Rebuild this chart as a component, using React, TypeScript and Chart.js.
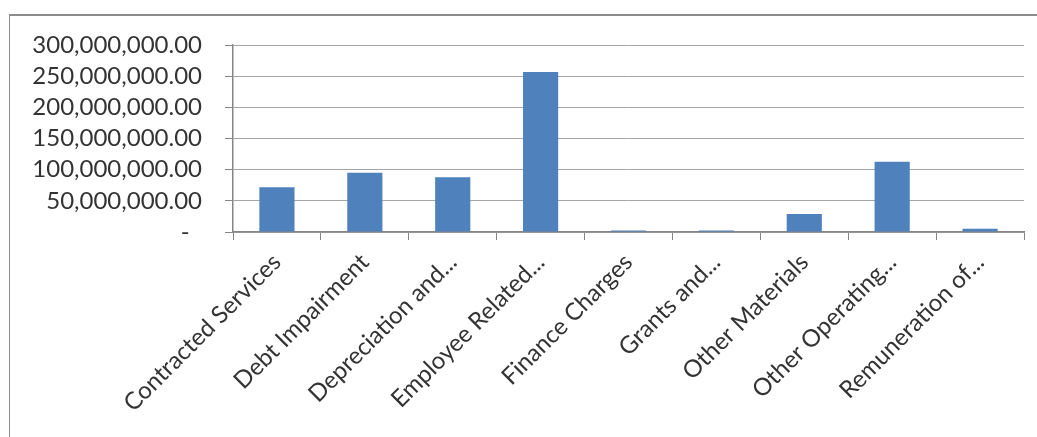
import { useEffect, useRef } from 'react';
import { Chart, registerables } from 'chart.js';

Chart.register(...registerables);

const categories = [
  'Contracted Services',
  'Debt Impairment',
  'Depreciation and...',
  'Employee Related...',
  'Finance Charges',
  'Grants and...',
  'Other Materials',
  'Other Operating...',
  'Remuneration of...',
];

const expenditure = [71700000, 95000000, 87800000, 256800000, 2500000, 2300000, 28900000, 112800000, 5300000];

const yMin = 0;
const yMax = 300000000;
const yStep = 50000000;

const FONT = 'Lato, "Open Sans", sans-serif';

export default function App() {
  const ref = useRef<HTMLCanvasElement | null>(null);

  useEffect(() => {
    if (!ref.current) return;
    const chart = new Chart(ref.current, {
      type: 'bar',
      data: {
        labels: categories,
        datasets: [
          {
            data: expenditure,
            backgroundColor: '#4F81BD',
            borderWidth: 0,
            barPercentage: 0.4,
            categoryPercentage: 1.0,
          },
        ],
      },
      options: {
        responsive: false,
        animation: false,
        layout: { padding: { left: 0, top: 45, right: 13, bottom: 0 } },
        plugins: {
          legend: { display: false },
          tooltip: { enabled: false },
          title: { display: false },
        },
        scales: {
          x: {
            offset: true,
            grid: {
              offset: true,
              drawOnChartArea: false,
              drawTicks: true,
              tickLength: 8,
              tickColor: '#868686',
              lineWidth: 1,
            },
            border: { display: true, color: '#868686', width: 1.5 },
            ticks: {
              autoSkip: false,
              maxRotation: 45,
              minRotation: 45,
              padding: 8,
              color: '#333333',
              font: { family: FONT, size: 24 },
            },
            afterFit: (scale: any) => {
              scale.height = 437 - 232;
            },
          },
          y: {
            min: yMin,
            max: yMax,
            grid: {
              color: '#a6a6a6',
              lineWidth: 1,
              drawTicks: true,
              tickLength: 8,
              tickColor: '#868686',
            },
            border: { display: true, color: '#868686', width: 1.5 },
            ticks: {
              autoSkip: false,
              stepSize: yStep,
              padding: 23,
              color: '#333333',
              font: { family: FONT, size: 24 },
              callback: (v: any) =>
                Number(v) === 0
                  ? '-  '
                  : Number(v).toLocaleString('en-US', { minimumFractionDigits: 2, maximumFractionDigits: 2 }),
            },
            afterFit: (scale: any) => {
              scale.width = 233;
            },
          },
        },
      },
    });
    return () => chart.destroy();
  }, []);

  return (
    <div style={{ position: 'absolute', left: 0, top: 0, width: 1037, height: 437, background: '#fff', overflow: 'hidden' }}>
      <div
        style={{
          position: 'absolute',
          left: 9,
          top: 14,
          width: 1100,
          height: 500,
          borderTop: '2px solid #8c8c8c',
          borderLeft: '1.5px solid #8c8c8c',
          boxSizing: 'border-box',
        }}
      />
      <canvas ref={ref} width={1037} height={437} style={{ position: 'absolute', left: 0, top: 0 }} />
    </div>
  );
}
